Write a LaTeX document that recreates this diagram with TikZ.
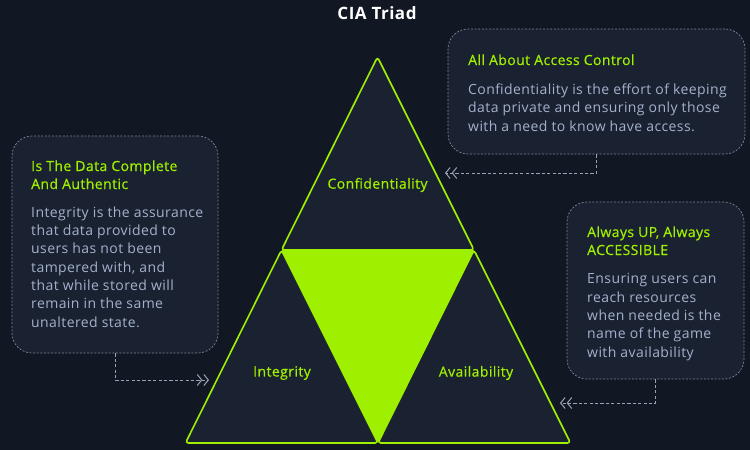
\documentclass[tikz,border=0pt]{standalone}
\usepackage{fontspec}
\setmainfont{Open Sans}[LetterSpace=3]
\newfontfamily\headfont[FakeBold=0.6,LetterSpace=3]{Open Sans}
\usetikzlibrary{arrows.meta}
\definecolor{bgdark}{HTML}{111723}
\definecolor{panel}{HTML}{1A2130}
\definecolor{lime}{HTML}{9FEF00}
\definecolor{mist}{HTML}{A4B1CD}
\definecolor{rule}{HTML}{7C8598}
\definecolor{pointer}{HTML}{9AA3B5}
\tikzset{
  infobox/.style={draw=rule, line width=0.7pt, dash pattern=on 2pt off 1.6pt,
    fill=panel, rounded corners=20pt, inner sep=0pt},
  heading/.style={anchor=base west, text=lime, inner sep=0pt,
    font=\headfont\fontsize{14}{18}\selectfont, align=left},
  bodytext/.style={anchor=base west, text=mist, inner sep=0pt,
    font=\fontsize{14}{18.3}\selectfont, align=left},
  part/.style={fill=panel, draw=lime, line width=1.6pt, rounded corners=3pt, line join=round},
  partlabel/.style={text=lime, font=\headfont\fontsize{14}{16}\selectfont},
  conn/.style={draw=pointer, line width=1pt, dash pattern=on 3.2pt off 2.2pt,
    -{Straight Barb[length=4.5pt,width=11pt,sep=1pt] Straight Barb[length=4.5pt,width=11pt]}},
}
\begin{document}
\begin{tikzpicture}[x=1pt, y=-1pt]
\useasboundingbox[fill=bgdark] (0,0) rectangle (750,450);

% title
\node[text=white, font=\fontsize{17}{19}\selectfont\bfseries] (title) at (377,13) {CIA Triad};

% triad corners and edge midpoints
\coordinate (A) at (377.5,57);
\coordinate (B) at (185.5,443);
\coordinate (C) at (570.5,443);
\coordinate (AB) at (281.5,250);
\coordinate (AC) at (474,250);
\coordinate (BC) at (378,443);

% centre triangle, then the three outer parts
\fill[lime] (AB) -- (AC) -- (BC) -- cycle;
\draw[part] (A) -- (AC) -- (AB) -- cycle;
\draw[part] (AB) -- (BC) -- (B) -- cycle;
\draw[part] (AC) -- (C) -- (BC) -- cycle;

\node[partlabel] (conf) at (377.5,185) {Confidentiality};
\node[partlabel] (integ) at (282,373) {Integrity};
\node[partlabel] (avail) at (476,373) {Availability};

% information panels
\node[infobox, minimum width=297pt, minimum height=125pt] (boxC) at (596.5,91.5) {};
\node[infobox, minimum width=206pt, minimum height=217pt] (boxI) at (115,244.5) {};
\node[infobox, minimum width=177pt, minimum height=177pt] (boxA) at (655.5,290.5) {};

% texts (anchored at the baseline of their last line)
\node[heading] (hC) at (468,65) {All About Access Control};
\node[bodytext] (tC) at (468,131) {Confidentiality is the effort of keeping\\data private and ensuring only those\\with a need to know have access.};

\node[heading] (hI) at (31,189) {Is The Data Complete\\And Authentic};
\node[bodytext] (tI) at (31,327) {Integrity is the assurance\\that data provided to\\users has not been\\tampered with, and\\that while stored will\\remain in the same\\unaltered state.};

\node[heading] (hA) at (587,255) {Always UP, Always\\ACCESSIBLE};
\node[bodytext] (tA) at (587,357) {Ensuring users can\\reach resources\\when needed is the\\name of the game\\with availability};

% pointers from the panels to the triad
\coordinate (pC) at (445,173);
\coordinate (pI) at (209,380);
\coordinate (pA) at (560,403);
\draw[conn] (boxC.south) |- (pC);
\draw[conn] (boxI.south) |- (pI);
\draw[conn] (boxA.south) |- (pA);
\end{tikzpicture}
\end{document}
